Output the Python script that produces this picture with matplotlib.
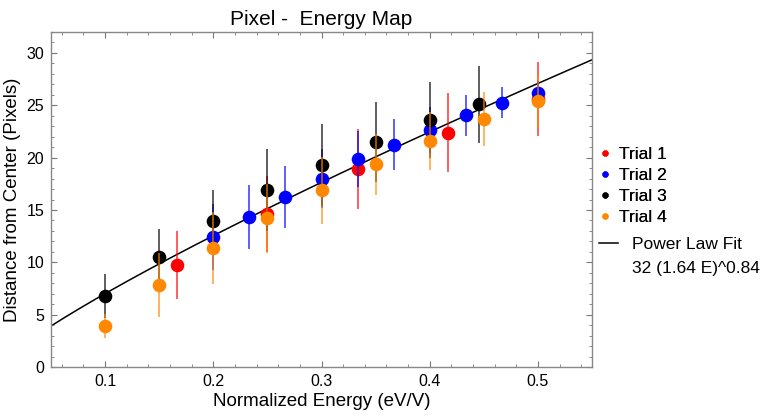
import matplotlib.pyplot as plt
from matplotlib.lines import Line2D
from matplotlib.ticker import MultipleLocator
import numpy as np

plt.rcParams['font.family'] = ['Liberation Sans', 'DejaVu Sans']

# Daten
t1_x = [1/6, 0.25, 1/3, 5/12, 0.5]
t1_y = [9.75, 14.6, 18.9, 22.4, 25.6]
t1_e = [3.25, 3.65, 3.85, 3.8, 3.5]

t2_x = [0.2, 7/30, 4/15, 0.3, 1/3, 11/30, 0.4, 13/30, 14/30, 0.5]
t2_y = [12.45, 14.35, 16.25, 18.0, 19.85, 21.25, 22.6, 24.05, 25.25, 26.15]
t2_e = [3.15, 3.05, 2.95, 2.85, 2.65, 2.45, 2.2, 1.95, 1.45, 1.2]

t3_x = [0.1, 0.15, 0.2, 0.25, 0.3, 0.35, 0.4, 0.446]
t3_y = [6.8, 10.5, 13.9, 16.9, 19.3, 21.5, 23.6, 25.1]
t3_e = [2.1, 2.7, 3.0, 3.9, 3.9, 3.8, 3.6, 3.7]

t4_x = [0.1, 0.15, 0.2, 0.25, 0.3, 0.35, 0.4, 0.45, 0.5]
t4_y = [3.95, 7.8, 11.35, 14.2, 16.9, 19.35, 21.6, 23.7, 25.4]
t4_e = [1.15, 3.05, 3.45, 3.3, 3.2, 2.95, 2.75, 2.6, 2.55]

fit_a, fit_b, fit_p = 32, 1.64, 0.84

labels = ["Trial 1", "Trial 2", "Trial 3", "Trial 4"]
colors = ["#ff0000", "#0000ff", "#000000", "#ff8800"]
series = [(t1_x, t1_y, t1_e), (t2_x, t2_y, t2_e), (t3_x, t3_y, t3_e), (t4_x, t4_y, t4_e)]

fig = plt.figure(figsize=(7.62, 4.16), dpi=100)
ax = fig.add_axes([51/762, 1-367/416, (592-51)/762, (367-32)/416])

# Fit-Kurve
E = np.linspace(0.05, 0.55, 200)
ax.plot(E, fit_a*(fit_b*E)**fit_p, color="black", lw=1.1, zorder=1)

# Reihenfolge: schwarz, rot, blau, orange (orange oben)
for i in [2, 0, 1, 3]:
    x, y, e = series[i]
    eb = ax.errorbar(x, y, yerr=e, fmt="o", color=colors[i], ms=9.8, mew=0,
                     elinewidth=1.1, capsize=2.2, capthick=1.2, zorder=2+i,
                     ecolor=colors[i])
    for c in eb[1]:
        c.set_alpha(0.8)
    for c in eb[2]:
        c.set_alpha(0.8)

ax.set_xlim(0.05, 0.55)
ax.set_ylim(0, 32)
ax.xaxis.set_major_locator(MultipleLocator(0.1))
ax.xaxis.set_minor_locator(MultipleLocator(0.02))
ax.yaxis.set_major_locator(MultipleLocator(5))
ax.yaxis.set_minor_locator(MultipleLocator(1))
ax.tick_params(which="both", direction="in", top=True, right=True, color="#777777",
               labelsize=11.5, pad=5)
ax.tick_params(which="major", length=4.5, width=0.8)
ax.tick_params(which="minor", length=2.5, width=0.6)
for s in ax.spines.values():
    s.set_color("#888888")
    s.set_linewidth(1.0)

ax.set_title("Pixel -  Energy Map", fontsize=15, pad=5)
ax.set_xlabel("Normalized Energy (eV/V)", fontsize=13.5, labelpad=3)
ax.set_ylabel("Distance from Center (Pixels)", fontsize=13.5, labelpad=4)

handles = [Line2D([], [], marker="o", color=c, ls="none", ms=3.5) for c in colors]
leg1 = fig.legend(handles, labels, loc="upper left", bbox_to_anchor=(598/762, 1-147/416),
                  frameon=False, fontsize=12.5, handlelength=0.8, handletextpad=0.4,
                  labelspacing=0.33, borderpad=0, borderaxespad=0)
fig.add_artist(leg1)
fit_handle = [Line2D([], [], color="black", lw=1.1)]
fig.legend(fit_handle, ["Power Law Fit"], loc="upper left", bbox_to_anchor=(599/762, 1-237/416),
           frameon=False, fontsize=12.5, handlelength=1.1, handletextpad=0.8,
           borderpad=0, borderaxespad=0)
fig.text(632/762, 1-269/416, "%d (%.2f E)^%.2f" % (fit_a, fit_b, fit_p),
         fontsize=12.5, va="center", ha="left")

fig.savefig("out.png", dpi=100)
